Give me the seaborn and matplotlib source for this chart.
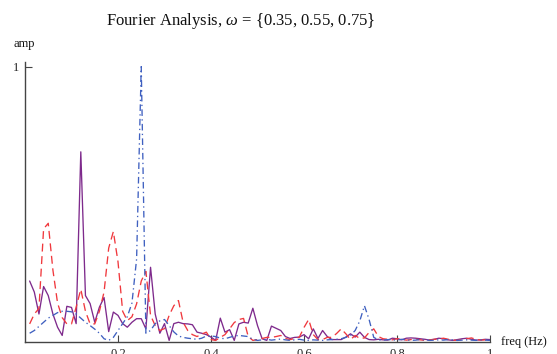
import numpy as np
import pandas as pd
import matplotlib
matplotlib.use("Agg")
import matplotlib.pyplot as plt
import seaborn as sns

# ---- data -------------------------------------------------------------
freq = np.round(np.linspace(0.01, 1.0, 100), 2)

amp_035 = [0.22, 0.18, 0.10, 0.20, 0.167, 0.10, 0.052, 0.022, 0.128, 0.124,
           0.065, 0.69, 0.167, 0.138, 0.07, 0.125, 0.16, 0.036, 0.107, 0.095,
           0.065, 0.052, 0.07, 0.083, 0.083, 0.046, 0.27, 0.10, 0.03, 0.065,
           0.004, 0.065, 0.07, 0.065, 0.064, 0.061, 0.034, 0.03, 0.025, 0.016,
           0.004, 0.085, 0.034, 0.043, 0.004, 0.064, 0.07, 0.067, 0.121, 0.058,
           0.01, 0.004, 0.056, 0.048, 0.04, 0.018, 0.011, 0.015, 0.016, 0.025,
           0.01, 0.046, 0.011, 0.04, 0.018, 0.007, 0.007, 0.007, 0.016, 0.028,
           0.016, 0.034, 0.015, 0.007, 0.006, 0.008, 0.006, 0.005, 0.012, 0.010,
           0.006, 0.012, 0.013, 0.012, 0.010, 0.008, 0.005, 0.008, 0.012, 0.010,
           0.006, 0.004, 0.007, 0.010, 0.012, 0.008, 0.005, 0.006, 0.008, 0.007]

amp_055 = [0.064, 0.10, 0.12, 0.41, 0.43, 0.26, 0.14, 0.087, 0.064, 0.064,
           0.125, 0.19, 0.11, 0.064, 0.064, 0.11, 0.18, 0.34, 0.40, 0.29,
           0.11, 0.076, 0.09, 0.137, 0.22, 0.255, 0.095, 0.058, 0.04, 0.047,
           0.095, 0.13, 0.149, 0.07, 0.04, 0.025, 0.018, 0.027, 0.034, 0.007,
           0.004, 0.015, 0.025, 0.046, 0.069, 0.08, 0.084, 0.018, 0.004, 0.007,
           0.011, 0.015, 0.015, 0.018, 0.022, 0.011, 0.007, 0.011, 0.016, 0.051,
           0.08, 0.025, 0.007, 0.007, 0.015, 0.015, 0.029, 0.046, 0.028, 0.007,
           0.022, 0.011, 0.013, 0.033, 0.046, 0.018, 0.01, 0.008, 0.006, 0.010,
           0.008, 0.005, 0.007, 0.009, 0.006, 0.004, 0.006, 0.008, 0.009, 0.012,
           0.008, 0.005, 0.004, 0.007, 0.010, 0.013, 0.008, 0.005, 0.006, 0.008]

amp_075 = [0.03, 0.04, 0.055, 0.07, 0.085, 0.095, 0.105, 0.11, 0.11, 0.108,
           0.10, 0.085, 0.07, 0.058, 0.045, 0.03, 0.01, 0.004, 0.015, 0.04,
           0.065, 0.09, 0.14, 0.30, 1.0, 0.03, 0.04, 0.065, 0.075, 0.08,
           0.058, 0.035, 0.02, 0.015, 0.012, 0.01, 0.008, 0.012, 0.02, 0.02,
           0.018, 0.012, 0.01, 0.015, 0.02, 0.022, 0.02, 0.018, 0.008, 0.004,
           0.006, 0.008, 0.005, 0.007, 0.009, 0.006, 0.004, 0.006, 0.008, 0.005,
           0.004, 0.006, 0.005, 0.004, 0.006, 0.007, 0.008, 0.01, 0.015, 0.022,
           0.04, 0.075, 0.13, 0.08, 0.015, 0.006, 0.005, 0.007, 0.006, 0.005,
           0.008, 0.006, 0.004, 0.005, 0.007, 0.006, 0.004, 0.005, 0.006, 0.005,
           0.007, 0.006, 0.004, 0.005, 0.006, 0.005, 0.004, 0.006, 0.005, 0.004]

series_names = ["0.35", "0.55", "0.75"]
series_vals = [amp_035, amp_055, amp_075]
colors = ["#7e2a8c", "#f0383d", "#3f60c0"]
styles = ["-", (0, (6, 3.5)), (0, (5, 2.5, 1, 2.5))]

title_txt = r"Fourier Analysis, $\omega$ = {0.35, 0.55, 0.75}"
xlabel_txt = "freq (Hz)"
ylabel_txt = "amp"
xticks = [0.2, 0.4, 0.6, 0.8, 1.0]
xticklabels = ["0.2", "0.4", "0.6", "0.8", "1"]
yticks = [1.0]
yticklabels = ["1"]

# ---- style ------------------------------------------------------------
sns.set_theme(style="white")
plt.rcParams["font.family"] = ["Liberation Serif", "DejaVu Serif"]
plt.rcParams["mathtext.fontset"] = "custom"
plt.rcParams["mathtext.rm"] = "Liberation Serif"
plt.rcParams["mathtext.it"] = "Liberation Serif:italic"

W, H = 557, 354
fig = plt.figure(figsize=(W / 100, H / 100), dpi=100)
ax = fig.add_axes([25 / W, 12.5 / H, 465 / W, 279 / H])

df = pd.DataFrame({"freq": np.tile(freq, 3),
                   "amp": np.concatenate(series_vals),
                   "omega": np.repeat(series_names, len(freq))})

for name, col, ls in zip(series_names, colors, styles):
    sub = df[df["omega"] == name]
    sns.lineplot(data=sub, x="freq", y="amp", ax=ax, color=col,
                 linestyle=ls, linewidth=0.95, legend=False)

ax.set_xlim(0, 1.0)
ax.set_ylim(0, 1.015)
ax.set_xlabel("")
ax.set_ylabel("")
for s in ["top", "right"]:
    ax.spines[s].set_visible(False)
for s in ["left", "bottom"]:
    ax.spines[s].set_color("#444444")
    ax.spines[s].set_linewidth(1.0)

ax.set_xticks(xticks)
ax.set_xticklabels(xticklabels)
ax.set_yticks(yticks)
ax.set_yticklabels(yticklabels)
ax.tick_params(axis="both", direction="in", length=5, width=0.8,
               color="#444444", labelsize=9, labelcolor="#222222",
               bottom=True, left=True, top=False, right=False)
ax.tick_params(axis="x", pad=5)
ax.tick_params(axis="y", pad=4)

fig.text(241 / W, 1 - 21 / H, title_txt, ha="center", va="center",
         fontsize=12, color="#111111")
fig.text(13 / W, 1 - 47 / H, ylabel_txt, ha="left", va="baseline",
         fontsize=9, color="#111111")
fig.text(501 / W, 12.5 / H, xlabel_txt, ha="left", va="center",
         fontsize=9, color="#111111")

fig.savefig("out.png", dpi=100, facecolor="white")
